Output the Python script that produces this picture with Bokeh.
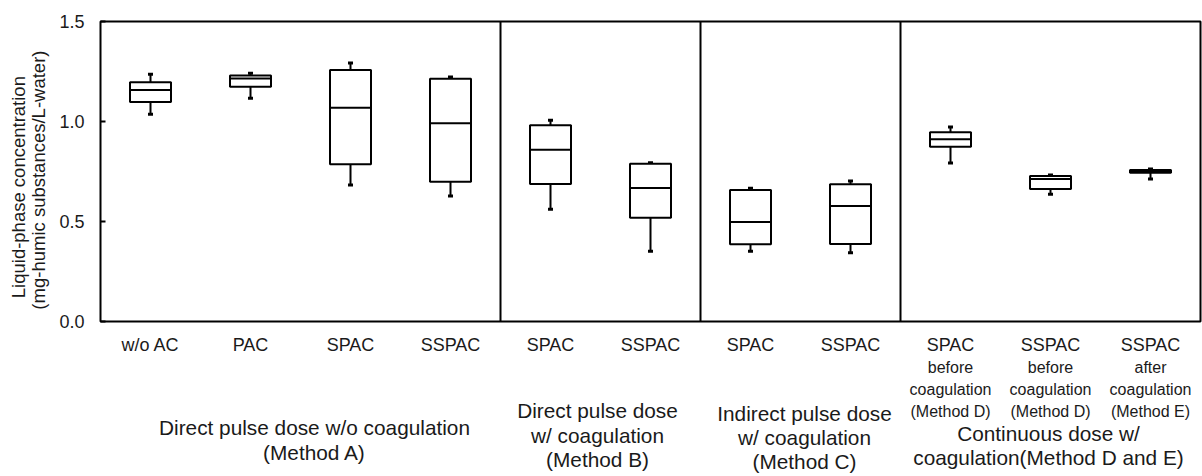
from math import pi

from bokeh.core.properties import value
from bokeh.embed import file_html
from bokeh.layouts import column, row
from bokeh.models import ColumnDataSource, FixedTicker, PrintfTickFormatter, Range1d, Span
from bokeh.plotting import figure
from bokeh.resources import INLINE

# ---- data -------------------------------------------------------------
categories = ["w/o AC", "PAC", "SPAC", "SSPAC", "SPAC", "SSPAC",
              "SPAC", "SSPAC", "SPAC", "SSPAC", "SSPAC"]
sub_labels = {8: ["before", "coagulation", "(Method D)"],
              9: ["before", "coagulation", "(Method D)"],
              10: ["after", "coagulation", "(Method E)"]}

whisker_hi = [1.236, 1.241, 1.2925, 1.2225, 1.006, 0.794, 0.666, 0.7025, 0.9725, 0.7325, 0.7625]
q3         = [1.196, 1.230, 1.2575, 1.214, 0.981, 0.789, 0.6575, 0.686, 0.946, 0.7275, 0.7575]
median     = [1.1575, 1.215, 1.069, 0.991, 0.859, 0.6675, 0.4975, 0.5775, 0.911, 0.7125, 0.751]
q1         = [1.0975, 1.174, 0.786, 0.699, 0.6875, 0.519, 0.386, 0.3875, 0.874, 0.6625, 0.744]
whisker_lo = [1.036, 1.116, 0.6825, 0.6275, 0.561, 0.351, 0.351, 0.344, 0.7925, 0.636, 0.7125]

group_bounds = [4, 6, 8]
group_labels = [
    (2.14, ["Direct pulse dose w/o coagulation", "(Method A)"], [106, 131]),
    (4.97, ["Direct pulse dose", "w/ coagulation", "(Method B)"], [89, 114, 137.5]),
    (7.04, ["Indirect pulse dose", "w/ coagulation", "(Method C)"], [91.5, 115.5, 140]),
    (9.48, ["Continuous dose w/", "coagulation(Method D and E)"], [112, 136]),
]
y_ticks = [0.0, 0.5, 1.0, 1.5]
y_title = ["Liquid-phase concentration", "(mg-humic substances/L-water)"]

# ---- layout constants (pixels) ----------------------------------------
W, H = 1202, 476
TITLE_W = 50          # strip holding the rotated y title
AXIS_W = 50           # tick-label panel of the chart
TOP, FRAME_H = 21, 300
PAD_B = 11            # room under the frame for the lowest tick label
CHART_H = TOP + FRAME_H + PAD_B
FOOT_H = H - CHART_H
FRAME_L = TITLE_W + AXIS_W
FRAME_W = W - FRAME_L - 2
N = len(categories)
PX_PER_X = FRAME_W / N

FONT = "Liberation Sans"
INK = "#1a1a1a"

# ---- chart ------------------------------------------------------------
p = figure(width=W - TITLE_W, height=CHART_H, output_backend="svg", toolbar_location=None,
           x_range=Range1d(0, N), y_range=Range1d(0.0, 1.5),
           min_border_left=AXIS_W, min_border_right=2,
           min_border_top=TOP, min_border_bottom=PAD_B,
           background_fill_color="white", border_fill_color="white")
p.title.visible = False
p.grid.visible = False
p.xaxis.visible = False
p.outline_line_color = "black"
p.outline_line_width = 2

ax = p.yaxis[0]
ax.ticker = FixedTicker(ticks=y_ticks)
ax.formatter = PrintfTickFormatter(format="%.1f")
ax.axis_line_color = None
ax.major_tick_in = 5
ax.major_tick_out = 0
ax.major_tick_line_width = 2
ax.minor_tick_line_color = None
ax.major_label_standoff = 16
ax.major_label_text_font = FONT
ax.major_label_text_font_size = "18px"
ax.major_label_text_color = INK

xs = [i + 0.5 for i in range(N)]
half_w = 0.205
cap_w = 0.025
src = ColumnDataSource(dict(
    x=xs, hi=whisker_hi, q3=q3, med=median, q1=q1, lo=whisker_lo,
    left=[x - half_w for x in xs], right=[x + half_w for x in xs],
    cl=[x - cap_w for x in xs], cr=[x + cap_w for x in xs],
))

p.segment(x0="x", y0="q3", x1="x", y1="hi", source=src, line_color="black", line_width=2)
p.segment(x0="x", y0="q1", x1="x", y1="lo", source=src, line_color="black", line_width=2)
p.segment(x0="cl", y0="hi", x1="cr", y1="hi", source=src, line_color="black", line_width=3)
p.segment(x0="cl", y0="lo", x1="cr", y1="lo", source=src, line_color="black", line_width=3)
p.quad(left="left", right="right", top="q3", bottom="q1", source=src,
       fill_color="white", line_color="black", line_width=2)
p.segment(x0="left", y0="med", x1="right", y1="med", source=src,
          line_color="black", line_width=2)

for b in group_bounds:
    p.add_layout(Span(location=b, dimension="height", line_color="black", line_width=2))


def bare(width, height, xr, yr):
    f = figure(width=width, height=height, output_backend="svg", toolbar_location=None,
               x_range=xr, y_range=yr, min_border=0,
               x_axis_location=None, y_axis_location=None,
               background_fill_color="white", border_fill_color="white")
    f.title.visible = False
    f.grid.visible = False
    f.outline_line_color = None
    return f


def put(f, x, y, s, size, angle=0.0):
    f.text(x=[x], y=[y], text=[s], angle=angle, text_font=value(FONT),
           text_font_size=value(size), text_color=INK,
           text_align="center", text_baseline="middle")


# ---- y title strip (coordinates in pixels, y measured downwards) -------
left = bare(TITLE_W, CHART_H, Range1d(0, TITLE_W), Range1d(CHART_H, 0))
put(left, 18, 183.3, y_title[0], "18.5px", angle=pi / 2)
put(left, 38, 175.5, y_title[1], "18.5px", angle=pi / 2)

# ---- foot strip: same x mapping as the chart, y = pixels under the frame
x_lo = -FRAME_L / PX_PER_X
foot = bare(W, FOOT_H, Range1d(x_lo, x_lo + W / PX_PER_X),
            Range1d(PAD_B + FOOT_H, PAD_B))

for i, name in enumerate(categories):
    put(foot, xs[i], 23.5, name, "18px")
    for k, line in enumerate(sub_labels.get(i, [])):
        put(foot, xs[i], 45.5 + 22 * k, line, "16px")

for gx, lines, offs in group_labels:
    for line, off in zip(lines, offs):
        put(foot, gx, off, line, "20.8px")

layout = column(row(left, p, spacing=0), foot, spacing=0)
open("out.html", "w").write(file_html(layout, INLINE))
